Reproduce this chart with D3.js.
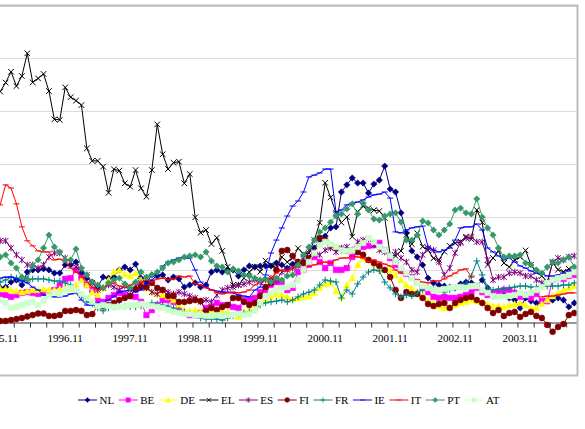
<!DOCTYPE html>
<html><head><meta charset="utf-8">
<script src="https://cdn.jsdelivr.net/npm/d3@7"></script>
<style>body{margin:0;background:#fff;}svg{display:block;}</style>
</head><body>
<svg id="chart" width="585" height="429"></svg>
<script>
// ---------- DATA ----------
const startYear = 1995, startMonth = 11, nMonths = 107;
const categories = [];
for (let k = 0; k < nMonths; k++) {
  const m = (startMonth - 1 + k) % 12 + 1;
  const yr = startYear + Math.floor((startMonth - 1 + k) / 12);
  categories.push(yr + "." + String(m).padStart(2, "0"));
}
const tickLabels = ["1995.11","1996.11","1997.11","1998.11","1999.11","2000.11","2001.11","2002.11","2003.11"];
const yTicks = [2, 4, 6, 8, 10, 12];

const NL = [1.31,1.34,1.53,1.61,1.42,1.91,1.99,1.99,2.03,1.99,1.87,1.87,2.18,2.18,2.29,1.87,1.68,1.53,1.34,1.72,1.68,1.72,1.99,2.10,1.99,2.21,1.68,1.50,1.80,1.76,1.80,1.61,1.72,1.65,1.34,1.42,1.50,1.34,1.42,1.91,1.99,1.91,1.99,1.99,1.76,1.99,2.14,2.10,2.14,2.14,2.14,2.25,2.18,2.06,2.21,2.29,2.29,2.44,2.82,3.12,3.27,3.58,3.62,4.94,5.21,5.47,5.28,5.28,4.90,5.24,5.39,5.92,5.05,4.94,4.15,3.39,2.71,2.48,2.18,1.68,1.50,1.42,1.38,1.34,1.31,1.46,1.53,1.50,1.38,1.61,1.31,1.00,1.04,1.04,0.93,0.85,0.55,0.93,0.81,0.74,0.78,0.81,0.85,0.93,0.85,0.59,0.74];
const BE = [1.04,1.04,0.97,1.04,1.12,1.15,1.12,1.08,1.12,1.15,1.23,1.42,1.65,1.68,1.99,1.68,1.42,1.23,0.85,0.78,0.93,1.04,1.12,1.04,1.00,0.97,0.78,0.28,0.47,0.66,0.85,0.85,0.78,0.47,0.36,0.28,0.28,0.36,0.55,0.59,0.74,0.66,0.66,0.59,0.55,0.85,0.85,0.93,1.15,1.23,1.42,1.53,1.46,1.23,1.31,1.91,1.99,2.18,2.48,2.29,2.06,2.25,1.99,1.99,2.06,2.48,2.67,2.86,2.90,2.93,3.01,2.74,2.44,2.18,1.99,1.84,1.72,1.53,1.31,1.15,0.97,0.93,0.97,0.93,0.93,0.97,1.04,1.15,1.31,1.15,1.04,1.12,1.15,1.23,1.23,1.12,0.97,1.04,0.93,1.08,0.81,0.81,1.61,1.68,1.65,1.76,1.80];
const DE = [1.27,1.27,1.23,1.19,1.15,1.19,1.23,1.23,1.27,1.23,1.23,1.27,1.31,1.27,1.42,1.61,1.42,1.15,1.04,1.31,1.61,1.91,1.99,1.84,1.76,1.87,1.61,1.31,1.15,1.08,1.04,0.97,0.85,0.66,0.47,0.44,0.47,0.40,0.36,0.40,0.40,0.44,0.40,0.28,0.21,0.40,0.47,0.66,0.74,0.85,1.00,1.08,1.04,0.97,0.89,0.93,0.97,1.00,1.12,1.31,1.46,1.50,1.19,0.97,1.42,1.68,2.18,2.44,2.37,2.21,2.06,1.99,1.99,1.80,1.61,1.42,1.31,1.15,1.00,0.85,0.74,0.62,0.55,0.59,0.66,0.74,0.78,0.85,0.81,0.78,0.70,0.62,0.62,0.59,0.66,0.70,0.74,0.66,0.55,0.55,0.70,0.85,1.00,1.12,1.23,1.31,1.38];
const EL = [8.74,9.08,9.49,8.95,9.33,10.19,9.09,9.24,9.41,8.76,7.69,7.67,8.90,8.53,8.40,8.23,6.59,6.12,6.12,5.90,4.91,5.80,5.75,5.27,5.14,5.77,5.08,4.76,5.77,7.50,6.37,5.81,6.05,6.09,5.27,5.62,3.98,3.40,3.50,2.97,3.21,2.71,2.11,1.42,1.42,1.68,1.91,2.11,1.92,2.34,2.18,2.06,2.48,2.29,2.44,2.81,2.59,2.63,3.12,3.78,5.29,4.74,4.16,3.78,3.99,3.25,4.19,4.40,4.33,4.25,4.22,3.96,2.56,2.52,2.71,3.31,2.97,3.38,2.87,2.74,2.43,2.37,2.68,2.90,3.00,3.06,3.25,3.15,4.26,3.79,2.18,2.44,2.71,2.25,2.10,2.37,2.48,2.73,2.18,1.91,1.76,1.54,2.27,2.00,1.92,2.03,2.01];
const ES = [3.09,3.09,2.82,2.56,2.37,2.18,2.18,2.06,2.18,2.48,2.63,2.63,2.44,2.29,2.10,1.99,1.80,1.50,1.23,1.31,1.42,1.34,1.23,1.38,1.23,1.38,1.50,1.31,1.15,1.08,1.23,1.15,1.08,1.15,1.08,1.00,0.93,0.78,0.85,0.78,1.04,1.23,1.31,1.34,1.42,1.46,1.53,1.61,1.53,1.61,1.68,1.61,1.91,1.99,2.06,2.14,2.44,2.74,2.67,2.56,2.74,2.82,2.67,2.82,2.86,2.74,3.05,3.12,3.16,2.93,2.74,2.67,2.52,2.67,2.44,2.29,1.99,1.91,2.56,2.82,2.74,2.29,1.80,2.06,2.63,3.01,3.20,3.24,3.05,3.05,2.37,1.61,1.72,1.72,1.87,1.91,1.87,1.76,1.76,1.61,1.50,1.46,2.29,2.44,2.37,2.48,2.52];
const FI = [0.06,0.06,0.09,0.13,0.17,0.23,0.28,0.34,0.34,0.25,0.25,0.28,0.44,0.44,0.47,0.44,0.28,0.32,0.62,0.62,0.66,0.74,0.85,0.93,1.00,1.27,1.34,1.34,1.50,1.31,1.23,1.00,1.00,0.78,0.78,0.81,0.85,0.81,0.44,0.55,0.47,0.59,0.66,0.93,0.93,0.78,0.66,0.74,1.00,1.34,1.50,1.99,2.71,2.74,2.52,2.29,2.25,2.44,2.63,3.20,3.12,2.93,2.82,2.74,2.71,2.74,2.67,2.56,2.37,2.25,2.14,1.99,1.72,1.23,0.93,1.15,1.08,1.08,0.93,0.70,0.62,0.70,0.74,0.55,0.74,0.85,0.93,0.97,0.85,0.74,0.55,0.36,0.47,0.25,0.36,0.40,0.21,0.32,0.40,0.25,0.17,-0.09,-0.35,-0.17,-0.06,0.28,0.36];
const FR = [1.53,1.61,1.72,1.68,1.61,1.57,1.65,1.65,1.65,1.61,1.57,1.57,1.50,1.42,1.23,1.00,0.78,0.70,0.55,0.44,0.55,0.59,0.62,0.62,0.59,0.59,0.62,0.66,0.74,0.70,0.66,0.62,0.55,0.47,0.40,0.32,0.28,0.17,0.13,0.13,0.13,0.09,0.17,0.25,0.32,0.36,0.40,0.47,0.66,0.74,0.78,0.81,0.85,0.78,0.85,0.97,1.08,1.15,1.23,1.42,1.61,1.57,1.53,0.93,1.23,1.08,1.46,1.72,1.91,1.99,1.95,1.53,1.31,1.08,0.97,1.04,1.00,1.12,1.23,1.34,1.27,1.23,1.15,1.23,1.31,1.38,1.46,1.76,2.33,1.80,1.31,1.23,1.27,1.27,1.31,1.34,1.38,1.38,1.34,1.34,1.38,1.38,1.38,1.38,1.42,1.42,1.50];
const IE = [1.68,1.72,1.72,1.65,1.57,1.50,1.34,1.23,1.04,1.00,0.97,0.97,1.00,1.08,1.12,0.85,0.66,0.66,0.74,0.74,0.85,1.00,1.15,1.19,1.23,1.15,1.23,1.50,1.61,1.80,2.14,2.29,2.37,2.44,2.44,2.44,1.99,1.53,1.38,1.23,1.19,1.15,1.15,1.12,1.04,1.00,0.97,1.23,1.34,1.80,2.63,3.12,3.58,4.03,4.41,4.60,4.94,5.51,5.58,5.66,5.81,5.81,4.18,4.26,4.45,4.52,4.56,4.64,4.75,4.83,4.86,4.94,4.71,3.43,3.39,3.50,3.58,3.62,3.65,2.86,2.74,2.67,2.74,2.82,3.12,3.58,3.62,3.62,3.73,3.50,2.82,2.67,2.52,2.37,2.44,2.29,2.14,2.06,1.95,1.87,1.84,1.76,1.76,1.80,1.87,1.95,1.99];
const IT = [4.45,5.21,5.09,4.49,3.62,3.09,2.90,2.71,2.67,2.67,2.37,2.40,2.29,2.06,1.91,1.72,1.53,1.34,1.23,1.31,1.42,1.50,1.38,1.34,1.42,1.53,1.50,1.61,1.53,1.65,1.68,1.61,1.65,1.76,1.72,1.76,1.46,1.42,1.31,1.23,1.15,1.08,1.12,1.15,1.12,1.15,1.23,1.42,1.53,1.61,1.68,1.87,1.99,1.95,2.06,2.14,2.06,2.14,2.18,2.25,2.29,2.25,2.37,2.44,2.44,2.52,2.48,2.44,2.29,2.37,2.29,2.21,2.14,1.99,1.87,1.80,1.68,1.61,1.53,1.50,1.57,1.57,1.65,1.76,1.87,1.99,2.03,1.72,null,null,null,null,null,null,null,null,null,null,null,null,0.97,1.00,1.00,1.04,1.08,1.12,1.12];
const PT = [2.48,2.56,2.25,2.06,1.72,1.65,2.14,2.37,2.82,3.31,2.86,2.67,2.37,2.37,2.78,2.06,1.80,1.53,1.42,1.31,1.50,1.61,1.68,1.46,1.31,1.53,1.91,1.72,1.80,1.91,2.06,2.25,2.29,2.37,2.48,2.52,2.56,2.48,2.67,2.33,2.14,2.10,1.91,2.03,1.95,1.80,1.76,1.68,1.61,1.65,1.53,1.68,1.61,1.76,1.80,2.18,2.56,2.86,3.12,3.43,3.58,3.80,4.03,4.11,4.30,4.49,4.11,4.52,4.26,3.92,3.88,4.03,4.11,4.15,3.80,3.12,3.12,3.31,3.84,3.77,3.50,3.31,3.50,3.73,4.26,4.33,4.15,4.11,4.68,3.99,3.58,3.31,2.82,2.48,2.52,2.52,2.56,2.25,2.18,1.99,1.87,2.10,2.29,2.25,2.37,2.48,2.10];
const AT = [0.85,0.74,0.55,0.59,0.66,0.74,0.78,0.66,0.85,1.00,1.12,1.08,1.23,1.31,1.23,1.08,0.93,0.78,0.62,0.66,0.62,0.59,0.59,0.62,0.66,0.66,0.70,0.66,0.62,0.59,0.55,0.47,0.40,0.36,0.32,0.32,0.28,0.28,0.25,0.25,0.28,0.25,0.28,0.28,0.32,0.28,0.32,0.47,0.74,0.97,1.12,1.23,1.31,1.34,1.42,1.61,1.99,2.29,2.63,2.93,3.05,2.97,2.86,2.74,2.71,2.74,2.86,3.01,3.20,3.05,2.86,2.74,2.52,2.29,2.06,1.87,1.68,1.50,1.38,1.31,1.23,1.23,1.27,1.31,1.34,1.34,1.31,1.38,1.38,1.23,1.12,1.00,0.97,0.97,1.00,1.04,1.12,1.04,1.12,1.23,1.34,1.50,1.61,1.68,1.72,1.80,1.91];

const seriesNames = ["NL","BE","DE","EL","ES","FI","FR","IE","IT","PT","AT"];
const seriesValues = [NL, BE, DE, EL, ES, FI, FR, IE, IT, PT, AT];

// ---------- STYLE ----------
const styles = {
  NL:{color:"#000080", marker:"diamond"},
  BE:{color:"#FF00FF", marker:"square"},
  DE:{color:"#FFFF00", marker:"triangle"},
  EL:{color:"#000000", marker:"x"},
  ES:{color:"#800080", marker:"star"},
  FI:{color:"#800000", marker:"circle"},
  FR:{color:"#008080", marker:"plus"},
  IE:{color:"#0000FF", marker:"dash"},
  IT:{color:"#FF0000", marker:"dash"},
  PT:{color:"#339966", marker:"diamond"},
  AT:{color:"#CCFFCC", marker:"square"}
};
const markerPaths = {
  diamond:"M0,-3.2L3.2,0L0,3.2L-3.2,0Z",
  square:"M-2.8,-2.8H2.8V2.8H-2.8Z",
  triangle:"M0,-3.3L3.3,2.8L-3.3,2.8Z",
  circle:"M3,0A3,3,0,1,1,-3,0A3,3,0,1,1,3,0Z",
  x:"M-2.8,-2.8L2.8,2.8M-2.8,2.8L2.8,-2.8",
  star:"M-2.8,-2.8L2.8,2.8M-2.8,2.8L2.8,-2.8M0,-3.3V3.3",
  plus:"M-3.3,0H3.3M0,-3.3V3.3",
  dash:"M-3,0H3"
};
const filled = {diamond:true, square:true, triangle:true, circle:true, x:false, star:false, plus:false, dash:false};

const FONT = "'Liberation Serif','Times New Roman',serif";
const svg = d3.select("#chart");

// ---------- SCALES ----------
const x = d3.scaleBand().domain(categories).range([-2.5, 577]).padding(0);
const xc = c => x(c) + x.bandwidth() / 2;
const xIdx = d3.scaleLinear().domain([0, nMonths]).range([-2.5, 577]);
const y = d3.scaleLinear().domain([0, 12]).range([322.5, 5.5]);

// gridlines
svg.append("g").selectAll("line").data(yTicks).join("line")
  .attr("x1", -2.5).attr("x2", 577)
  .attr("y1", d => Math.round(y(d)) + 0.5).attr("y2", d => Math.round(y(d)) + 0.5)
  .attr("stroke", "#dcdcdc").attr("stroke-width", 1);

// x axis (ticks every 3 months at category boundaries)
const axis = d3.axisBottom(xIdx)
  .tickValues(d3.range(0, nMonths + 1, 3))
  .tickFormat("").tickSize(5).tickSizeOuter(0);
const gx = svg.append("g").attr("transform", "translate(0,322.5)").call(axis);
gx.select(".domain").attr("stroke", "#333");
gx.selectAll(".tick line").attr("stroke", "#333");

svg.append("g").selectAll("text").data(tickLabels).join("text")
  .attr("x", d => xc(d)).attr("y", 342)
  .attr("text-anchor", "middle")
  .attr("font-family", FONT).attr("font-size", 11).attr("fill", "#000")
  .text(d => d);

// series
const line = d3.line()
  .defined(d => d.v != null)
  .x(d => xc(d.c)).y(d => y(d.v));

seriesNames.forEach((name, si) => {
  const st = styles[name];
  const pts = seriesValues[si].map((v, i) => ({c: categories[i], v}));
  const g = svg.append("g");
  g.append("path").datum(pts).attr("d", line)
    .attr("fill", "none").attr("stroke", st.color).attr("stroke-width", 1);
  g.selectAll("path.m").data(pts.filter(p => p.v != null)).join("path")
    .attr("class", "m")
    .attr("transform", p => `translate(${xc(p.c)},${y(p.v)})`)
    .attr("d", markerPaths[st.marker])
    .attr("fill", filled[st.marker] ? st.color : "none")
    .attr("stroke", st.color).attr("stroke-width", filled[st.marker] ? 0.5 : 1);
});

// frame
const frame = svg.append("g").attr("stroke", "#bdbdbd").attr("stroke-width", 2).attr("fill", "none");
frame.append("line").attr("x1", 0).attr("x2", 578).attr("y1", 5.5).attr("y2", 5.5);
frame.append("line").attr("x1", 577.5).attr("x2", 577.5).attr("y1", 5).attr("y2", 375.5);
frame.append("line").attr("x1", 0).attr("x2", 578).attr("y1", 375.5).attr("y2", 375.5);

// legend
const legend = svg.append("g").attr("transform", "translate(78,400)");
let lx = 0;
seriesNames.forEach(name => {
  const st = styles[name];
  const item = legend.append("g").attr("transform", `translate(${lx},0)`);
  item.append("line").attr("x1", 0).attr("x2", 19).attr("y1", 0).attr("y2", 0)
    .attr("stroke", st.color).attr("stroke-width", 1);
  item.append("path").attr("transform", "translate(9.5,0) scale(0.8)")
    .attr("d", markerPaths[st.marker])
    .attr("fill", filled[st.marker] ? st.color : "none")
    .attr("stroke", st.color).attr("stroke-width", filled[st.marker] ? 0.5 : 1);
  const t = item.append("text").attr("x", 21.5).attr("y", 4)
    .attr("font-family", FONT).attr("font-size", 11).attr("fill", "#000").text(name);
  lx += 21.5 + t.node().getComputedTextLength() + 4.5;
});
</script>
</body></html>
